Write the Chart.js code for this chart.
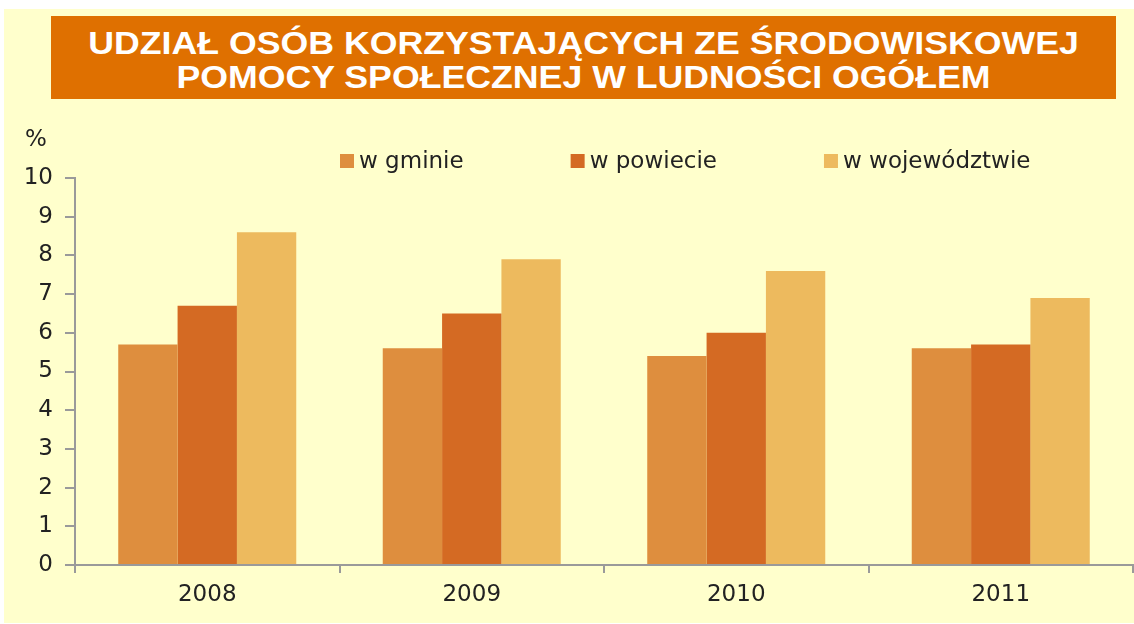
<!DOCTYPE html>
<html>
<head>
<meta charset="utf-8">
<script src="https://cdn.jsdelivr.net/npm/chart.js@4.4.0/dist/chart.umd.min.js"></script>
<style>
	body { margin: 0; background: #ffffff; }
	#page { position: absolute; left: 4px; top: 9px; width: 1130px; height: 614px; background: #ffffcc; }
	#titleBox { position: absolute; left: 51px; top: 16px; width: 1065px; height: 83px; background: #df7000; }
	#titleText { padding-top: 10px; text-align: center; color: #ffffff; font-family: "Liberation Sans", Arial, sans-serif;
		font-weight: bold; font-size: 30.5px; line-height: 34px; transform: scaleX(1.17); transform-origin: center; }
	#wrap { position: absolute; left: 0; top: 0; width: 1134px; height: 624px; }
</style>
</head>
<body>
<div id="page"></div>
<div id="titleBox"><div id="titleText">UDZIAŁ OSÓB KORZYSTAJĄCYCH ZE ŚRODOWISKOWEJ<br>POMOCY SPOŁECZNEJ W LUDNOŚCI OGÓŁEM</div></div>
<div id="wrap"><canvas id="udzial"></canvas></div>
<script>
//data//////////////////////////////////////////////////////////////////////////////////////////////
var years = ['2008', '2009', '2010', '2011'];
var seriesNames = ['w gminie', 'w powiecie', 'w województwie'];
var wGminie = [5.7, 5.6, 5.4, 5.6];
var wPowiecie = [6.7, 6.5, 6.0, 5.7];
var wWojewodztwie = [8.6, 7.9, 7.6, 6.9];
var yTicks = [0, 1, 2, 3, 4, 5, 6, 7, 8, 9, 10];
var unitLabel = '%';

var colors = ['#de8e3e', '#d46a23', '#edba5e'];
var font = 'DejaVu Sans';
var textColor = '#222222';
var axisColor = '#9a9a9a';

//legend and unit label drawn in one row above the plot//////////////////////////////////////////////
var legendRow = {
	id: 'legendRow',
	afterDraw: function(chart, args, opts) {
		var ctx = chart.ctx;
		ctx.save();
		ctx.font = '23px "' + font + '"';
		ctx.textBaseline = 'middle';
		ctx.fillStyle = textColor;
		ctx.textAlign = 'center';
		ctx.fillText(unitLabel, opts.unitX, opts.unitY);
		ctx.textAlign = 'left';
		var x = opts.x;
		chart.data.datasets.forEach(function(ds) {
			ctx.fillStyle = ds.backgroundColor;
			ctx.fillRect(x, opts.y - opts.box / 2, opts.box, opts.box);
			ctx.fillStyle = textColor;
			ctx.fillText(ds.label, x + opts.box + 5, opts.y + 1);
			x += opts.box + 5 + ctx.measureText(ds.label).width + opts.gap;
		});
		ctx.restore();
	}
};

//bar chart//////////////////////////////////////////////////////////////////////////////////////////
var barCtx = document.getElementById('udzial').getContext('2d');
var udzial = new Chart(barCtx, {
	type: 'bar',
	data: {
		labels: years,
		datasets: [
			{ label: seriesNames[0], data: wGminie, backgroundColor: colors[0] },
			{ label: seriesNames[1], data: wPowiecie, backgroundColor: colors[1] },
			{ label: seriesNames[2], data: wWojewodztwie, backgroundColor: colors[2] }
		]
	},
	options: {
		responsive: true,
		maintainAspectRatio: false,
		animation: false,
		categoryPercentage: 0.673,
		barPercentage: 1,
		layout: { padding: { top: 178, left: 0, right: 1, bottom: 0 } },
		plugins: {
			legend: { display: false },
			tooltip: { enabled: false },
			legendRow: { x: 340, y: 161, box: 14, gap: 107, unitX: 36, unitY: 140 }
		},
		scales: {
			x: {
				afterFit: function(s) { s.height = 59; },
				grid: { offset: true, drawOnChartArea: false, drawTicks: true, tickLength: 8, color: axisColor, lineWidth: 2 },
				border: { color: axisColor, width: 2 },
				ticks: { font: { family: font, size: 23 }, color: textColor, padding: 8 }
			},
			y: {
				min: 0,
				max: 10,
				afterFit: function(s) { s.width = 75; },
				afterBuildTicks: function(s) { s.ticks = yTicks.map(function(v) { return { value: v }; }); },
				grid: { drawOnChartArea: false, drawTicks: true, tickLength: 10, color: axisColor, lineWidth: 2 },
				border: { color: axisColor, width: 2 },
				ticks: { font: { family: font, size: 23 }, color: textColor, padding: 12 }
			}
		}
	},
	plugins: [legendRow]
});
//end bar chart//////////////////////////////////////////////////////////////////////////////////////
</script>
</body>
</html>
